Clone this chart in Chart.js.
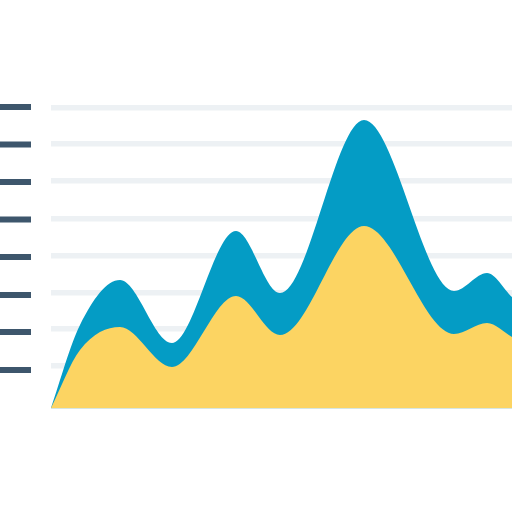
<!DOCTYPE html>
<html>
<head>
<meta charset="utf-8">
<style>
  html, body { margin: 0; padding: 0; background: #fff; }
  #wrap { width: 512px; height: 512px; }
</style>
<script src="https://cdn.jsdelivr.net/npm/chart.js@4/dist/chart.umd.min.js"></script>
</head>
<body>
<div id="wrap"><canvas id="chart" width="512" height="512"></canvas></div>
<script>
// ---- Data (start, peaks and troughs) ----
const xValues = [0, 29, 69, 121, 185, 229, 313, 403, 436, 461];
const blueValues = [0, 83, 128, 65, 177, 115, 288, 117, 135, 111];
const yellowValues = [0, 58, 81, 41, 112, 73, 182, 74, 85, 71];
const gridValues = [42.5, 79, 115.5, 152.5, 189.5, 227, 264, 300.5];
const tickMarkValues = [38, 76, 113, 151, 188.5, 226, 263.5, 301];

const BLUE = "#049cc5";
const YELLOW = "#fcd462";
const GRID = "#edf1f4";
const TICK = "#3d566c";

const toPoints = (vals) => vals.map((v, i) => ({ x: xValues[i], y: v }));

// Dark marks on the far left, same value scale as the plot
const tickMarks = {
    id: "tickMarks",
    afterDraw(chart) {
        const { ctx, scales } = chart;
        ctx.save();
        ctx.fillStyle = TICK;
        tickMarkValues.forEach((v) => {
            ctx.fillRect(0, scales.y.getPixelForValue(v) - 3, 31, 6);
        });
        ctx.restore();
    },
};

new Chart(document.getElementById("chart").getContext("2d"), {
    type: "line",
    data: {
        datasets: [
            {
                data: toPoints(yellowValues),
                borderWidth: 0,
                backgroundColor: YELLOW,
                fill: "origin",
                pointRadius: 0,
                cubicInterpolationMode: "monotone",
            },
            {
                data: toPoints(blueValues),
                borderWidth: 0,
                backgroundColor: BLUE,
                fill: "origin",
                pointRadius: 0,
                cubicInterpolationMode: "monotone",
            },
        ],
    },
    options: {
        responsive: false,
        animation: false,
        layout: { padding: { left: 51, right: 0, top: 100, bottom: 104 } },
        plugins: { legend: { display: false }, tooltip: { enabled: false } },
        scales: {
            x: {
                type: "linear",
                min: 0,
                max: 461,
                ticks: { display: false },
                grid: { display: false, drawTicks: false },
                border: { display: true, color: "#d6e6e2", width: 1 },
            },
            y: {
                min: 0,
                max: 308,
                afterBuildTicks: (axis) => {
                    axis.ticks = gridValues.map((v) => ({ value: v }));
                },
                ticks: { display: false },
                grid: { color: GRID, lineWidth: 5.5, drawTicks: false },
                border: { display: false },
            },
        },
    },
    plugins: [tickMarks],
});
</script>
</body>
</html>
